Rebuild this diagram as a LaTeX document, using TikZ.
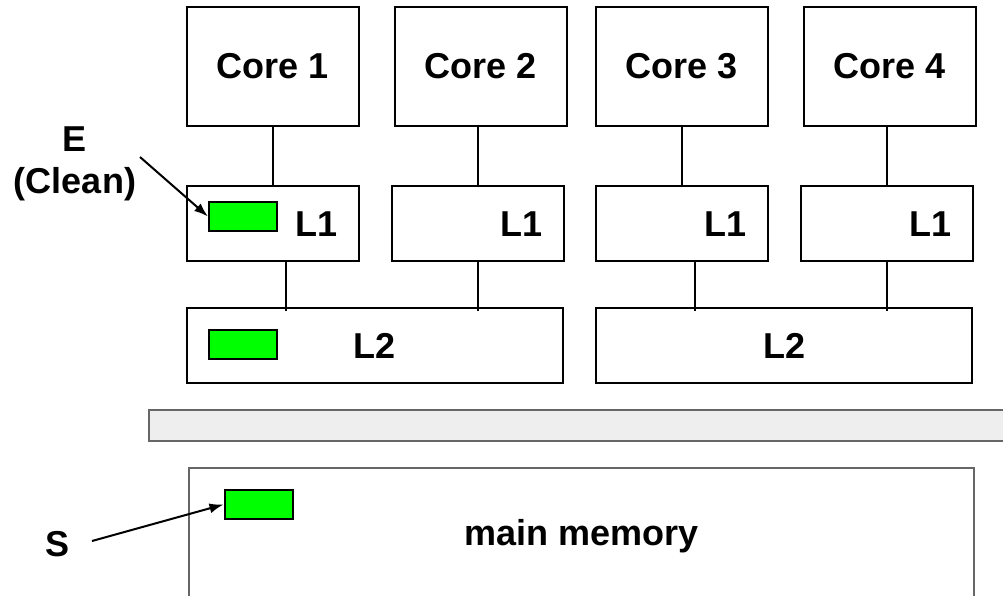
\documentclass[tikz,border=0pt]{standalone}
\usepackage{fontspec}
\setmainfont{Liberation Sans}
\usetikzlibrary{arrows.meta}
\definecolor{brightgreen}{HTML}{00FF00}
\definecolor{busgray}{HTML}{EEEEEE}
\definecolor{edgegray}{HTML}{666666}
\begin{document}
\begin{tikzpicture}[x=1pt, y=-1pt,
    box/.style={draw, line width=2pt, inner sep=0pt, font=\fontsize{36}{42}\selectfont\bfseries},
    lbl/.style={inner sep=0pt, font=\fontsize{36}{42}\selectfont\bfseries},
    wire/.style={line width=2pt},
    blk/.style={draw, fill=brightgreen, line width=2pt, inner sep=0pt, minimum width=68pt, minimum height=29pt}]
    \useasboundingbox (0,0) rectangle (1003,595);

    % Cores and their L1 caches
    \foreach \i/\x in {1/273, 2/481, 3/682, 4/890}
        \node[box, minimum width=172pt, minimum height=119pt] (core\i) at (\x, 66) {Core \i};
    \foreach \i/\x in {1/273, 2/477.5, 3/682, 4/886.5} {
        \node[box, minimum width=172pt, minimum height=75pt] (l1\i) at (\x, 223.5) {};
        \node[lbl, anchor=east] (l1txt\i) at ([xshift=-22pt, yshift=-1pt]l1\i.east) {L1};
    }

    % Shared L2 caches
    \node[box, minimum width=376pt, minimum height=75pt] (l2a) at (375, 345.5) {L2};
    \node[box, minimum width=376pt, minimum height=75pt] (l2b) at (784, 345.5) {L2};

    % Edges
    \foreach \i in {1,...,4}
        \draw[wire] (l1\i.north) -- (l1\i.north |- core\i.south);
    \foreach \i/\dx/\j in {1/13/a, 2/0/a, 3/13/b, 4/0/b}
        \draw[wire, shorten >=-4pt] ([xshift=\dx pt]l1\i.south) -- ([xshift=\dx pt]l1\i.south |- l2\j.north);

    % Bus and memory
    \node[draw=edgegray, fill=busgray, line width=2pt, inner sep=0pt,
          minimum width=870pt, minimum height=31pt, anchor=north west] (bus) at (148, 409) {};
    \node[draw=edgegray, line width=2pt, inner sep=0pt, minimum width=785pt, minimum height=136pt,
          anchor=north west, font=\fontsize{36}{42}\selectfont\bfseries] (mem) at (188, 467) {main memory};

    % Cache lines (green)
    \node[blk] (blk1) at (243, 216.5) {};
    \node[blk] (blk2) at (243, 344) {};
    \node[blk] (blk3) at (258.5, 504.5) {};

    % State labels
    \node[lbl, align=center] (e) at (75, 164) {E\\(Clean)};
    \node[lbl] (s) at (58, 544) {S};
    \coordinate (etail) at (140, 157);
    \coordinate (stail) at (92, 541);
    \draw[wire, -{Latex[length=14pt, width=10pt]}] (etail) -- (blk1.west);
    \draw[wire, -{Latex[length=14pt, width=10pt]}] (stail) -- (blk3.west);
\end{tikzpicture}
\end{document}
